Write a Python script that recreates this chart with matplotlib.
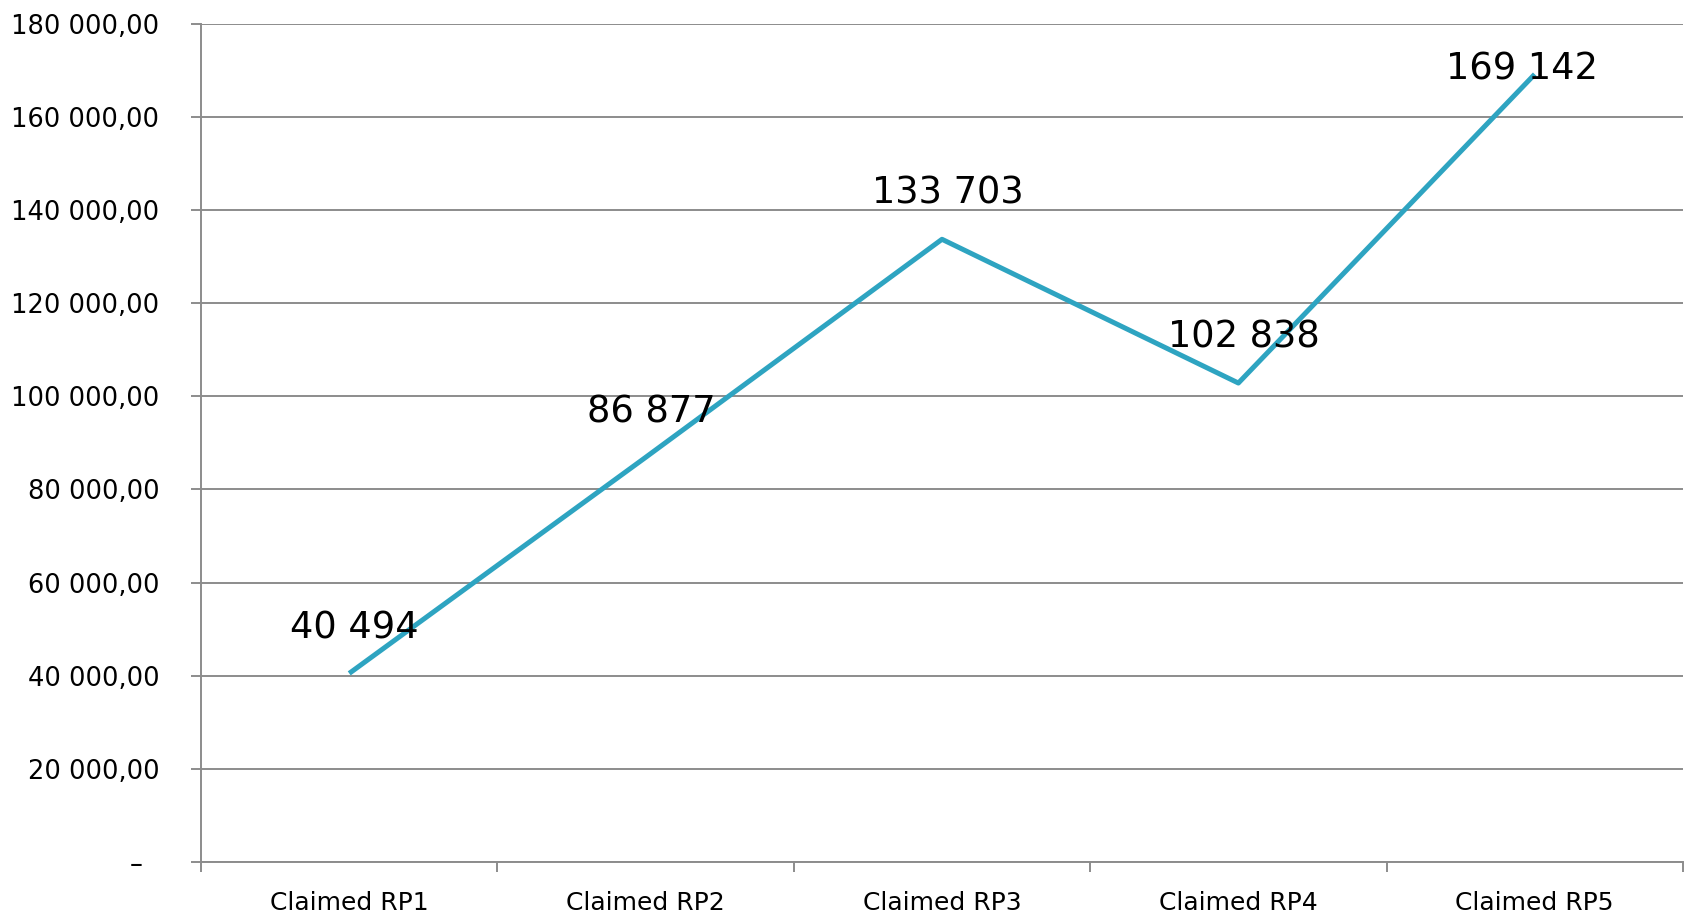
# %%
# ------------------------------------------------------------
# Claimed amounts per reporting period – line chart
# ------------------------------------------------------------
import numpy as np
from matplotlib import pyplot as plt
from matplotlib.ticker import FixedLocator

# %%
# data
periods = ["Claimed RP1", "Claimed RP2", "Claimed RP3", "Claimed RP4", "Claimed RP5"]
claimed = [40494, 86877, 133703, 102838, 169142]
y_ticks = [0, 20000, 40000, 60000, 80000, 100000, 120000, 140000, 160000, 180000]


def fmt_amount(v, decimals=0):
    s = f"{v:,.{decimals}f}".replace(",", " ").replace(".", ",")
    return s


# %%
# figure
plt.rcParams["font.family"] = ["DejaVu Sans"]
fig = plt.figure(figsize=(16.88, 9.17), dpi=100)
ax = fig.add_axes([0.1191, 0.0600, 0.8779, 0.9142])

grid_col = "#8c8c8c"
line_col = "#2ea4c1"

x = np.arange(len(periods))
ax.plot(x, claimed, color=line_col, lw=3.6, solid_capstyle="butt", zorder=3)

# value labels above each point (last one pushed back inside the plot area)
for i, v in enumerate(claimed):
    if v < 160000:
        dx, dy = 4, 33
    else:
        dx, dy = -9, 4
    ax.annotate(fmt_amount(v), (x[i], v), xytext=(dx, dy), textcoords="offset points",
                ha="center", va="center", fontsize=26.5, color="black", zorder=4)

ax.set_xlim(-0.5, len(periods) - 0.5)
ax.set_ylim(0, 180000)

# y axis
ax.set_yticks(y_ticks)
ax.set_yticklabels([fmt_amount(v, 2) if v else "–  " for v in y_ticks], fontsize=18.5)
ax.yaxis.grid(True, color=grid_col, lw=1.4)
ax.tick_params(axis="y", length=7, width=1.4, color=grid_col, pad=23)

# x axis: ticks on category boundaries, labels in the middle
ax.xaxis.set_major_locator(FixedLocator(np.arange(len(periods) + 1) - 0.5))
ax.xaxis.set_minor_locator(FixedLocator(x))
ax.set_xticklabels([], minor=False)
ax.set_xticklabels(periods, minor=True, fontsize=18)
ax.tick_params(axis="x", which="major", length=7, width=1.4, color=grid_col)
ax.tick_params(axis="x", which="minor", length=0, pad=21)

for side in ["top", "right"]:
    ax.spines[side].set_visible(False)
for side in ["left", "bottom"]:
    ax.spines[side].set_color(grid_col)
    ax.spines[side].set_linewidth(1.4)
ax.set_axisbelow(True)

fig.savefig("out.png", dpi=100)
